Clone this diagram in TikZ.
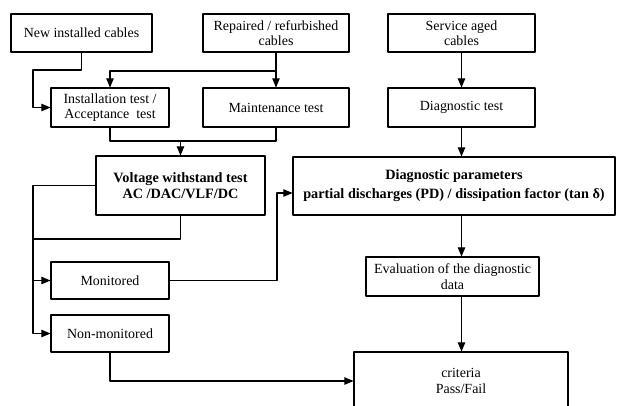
\documentclass[tikz,border=0pt]{standalone}
\usepackage{fontspec}
\setmainfont{Liberation Serif}
\usepackage{tikz}
\usetikzlibrary{arrows}

\begin{document}
\begin{tikzpicture}[line cap=round,line join=round,>=triangle 45,x=1bp,y=-1bp,line width=1.1pt,
  box/.style={draw,align=center,inner sep=0pt,font=\fontsize{14}{15.5}\selectfont},
  boldbox/.style={box,font=\fontsize{14.3}{16.5}\selectfont\bfseries}]
\useasboundingbox (0,0) rectangle (617,405);
\clip (0,0) rectangle (617,405);
\node (newc) at (81.5,33) [box,minimum width=141bp,minimum height=38bp] {New installed cables};
\node (repc) at (276,33) [box,minimum width=146bp,minimum height=38bp] {Repaired / refurbished\\cables};
\node (servc) at (461.5,33) [box,minimum width=147bp,minimum height=38bp] {Service aged\\cables};
\node (inst) at (110,107.5) [box,minimum width=118bp,minimum height=39bp] {Installation test /\\Acceptance~ test};
\node (maint) at (276,107.5) [box,minimum width=146bp,minimum height=39bp] {Maintenance test};
\node (diagt) at (461.5,107.5) [box,minimum width=147bp,minimum height=39bp] {Diagnostic test};
\node (volt) at (180.5,185.5) [boldbox,minimum width=169bp,minimum height=59bp] {Voltage withstand test\\AC /DAC/VLF/DC};
\node (diagp) at (454,186) [boldbox,font=\fontsize{14.3}{19}\selectfont\bfseries,minimum width=322bp,minimum height=58bp] {Diagnostic parameters\\partial discharges (PD) / dissipation factor (tan δ)};
\node (mon) at (110,280.5) [box,minimum width=118bp,minimum height=37bp] {Monitored};
\node (nonmon) at (110,333.5) [box,minimum width=118bp,minimum height=37bp] {Non-monitored};
\node (eval) at (452.5,276.5) [box,minimum width=173bp,minimum height=39bp] {Evaluation of the diagnostic\\data};
\node (crit) at (461,381) [box,minimum width=214bp,minimum height=58bp] {criteria\\Pass/Fail};
\coordinate (jA) at (33,70);
\coordinate (jB) at (110,71);
\coordinate (jC) at (180.5,141);
\coordinate (trunk) at (33,239);
\coordinate (jE) at (277,193);
\draw [->] (newc.south) |- (jA) |- (inst.west);
\draw [->] (repc.south) -- (maint.north);
\draw [->] (repc.south) |- (jB) -- (inst.north);
\draw (inst.south) |- (jC) -| (maint.south);
\draw [->] (jC) -- (volt.north);
\draw [->] (servc) -- (diagt);
\draw [->] (diagt.south) -- (diagt.south |- diagp.north);
\draw (volt.west) -| (trunk);
\draw (volt.south) |- (trunk);
\draw [->] (trunk) |- (mon.west);
\draw [->] (trunk) |- (nonmon.west);
\draw [->] (mon.east) -| (jE) -- (jE -| diagp.west);
\draw [->] (nonmon.south) |- (crit.west);
\draw [->] (diagt |- diagp.south) -- (diagt |- eval.north);
\draw [->] (diagt |- eval.south) -- (diagt |- crit.north);
\end{tikzpicture}
\end{document}
